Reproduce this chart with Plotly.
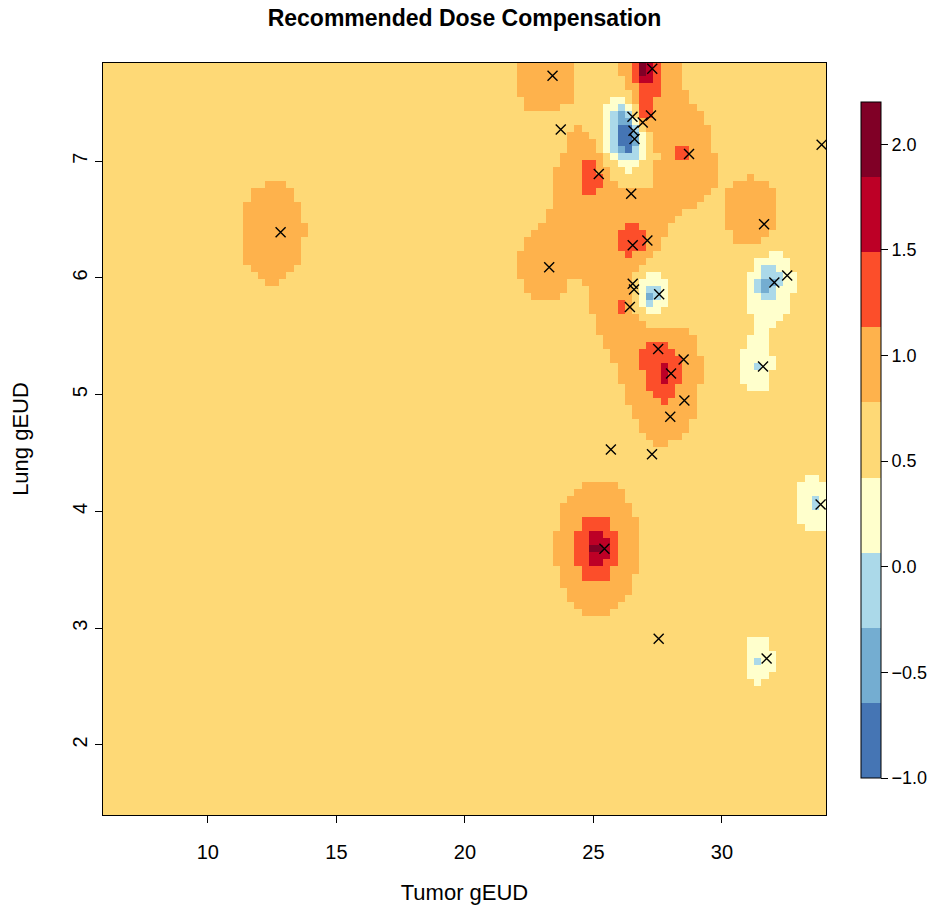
import numpy as np
import plotly.graph_objects as go

# ---- data ----
# measured points (Tumor gEUD, Lung gEUD)
pt_x = [23.41, 27.29, 26.52, 27.24, 26.92, 26.56, 26.60, 23.73, 28.72, 25.21,
        26.47, 26.53, 27.10, 23.28, 26.53, 26.58, 27.56, 26.42, 27.52, 28.51,
        28.02, 28.54, 27.99, 25.68, 27.28, 33.88, 31.64, 32.54, 32.04, 31.60,
        33.84, 25.43, 27.54, 31.74, 12.83]
pt_y = [7.73, 7.79, 7.38, 7.39, 7.33, 7.26, 7.19, 7.27, 7.06, 6.89,
        6.72, 6.28, 6.32, 6.09, 5.95, 5.90, 5.86, 5.75, 5.39, 5.30,
        5.18, 4.95, 4.81, 4.53, 4.49, 7.14, 6.46, 6.02, 5.96, 5.24,
        4.06, 3.68, 2.91, 2.74, 6.39]
# local compensation relative to the background level, and extent of influence
pt_amp = [0.60, 1.50, -0.60, 1.20, 0.00, -0.80, -2.10, -0.45, 0.65, 1.00,
          0.20, 0.35, 0.60, 0.50, 0.05, 0.05, -1.60, 0.62, 0.50, 0.20,
          0.80, 0.10, 0.20, 0.00, 0.00, 0.00, 0.60, -0.30, -1.30, -0.70,
          -0.75, 1.60, 0.00, -0.65, 0.50]
pt_width = [0.90, 0.55, 0.50, 0.50, 0.50, 0.50, 0.52, 0.35, 0.80, 0.70,
            0.90, 0.60, 0.60, 0.78, 0.80, 0.80, 0.50, 0.60, 0.70, 0.80,
            0.60, 0.70, 0.70, 0.50, 0.50, 0.50, 0.90, 0.50, 0.50, 0.48,
            0.50, 0.75, 0.50, 0.45, 1.20]
background_level = 0.6

levels = [-1.0, -0.644, -0.289, 0.067, 0.422, 0.778, 1.133, 1.489, 1.844, 2.2]
level_colors = ["#4575B4", "#74ADD1", "#ABD9E9", "#FFFFCC", "#FED976",
                "#FEB24C", "#FC4E2A", "#BD0026", "#800026"]
cb_tickvals = [-1.0, -0.5, 0.0, 0.5, 1.0, 1.5, 2.0]
cb_ticktext = ["\u22121.0", "\u22120.5", "0.0", "0.5", "1.0", "1.5", "2.0"]
x_range = [5.92, 34.05]
y_range = [1.40, 7.84]

# ---- surface on a grid ----
gx = np.arange(x_range[0], x_range[1] + 0.28, 0.28)
gy = np.arange(y_range[0], y_range[1] + 0.06, 0.06)
X, Y = np.meshgrid(gx, gy)
Z = np.full_like(X, background_level)
x_shift = 0.3
for xi, yi, a, s in zip(pt_x, pt_y, pt_amp, pt_width):
    r = np.sqrt(((X - (xi - x_shift)) / s) ** 2 + ((Y - yi) / (0.35 * s)) ** 2)
    Z += a * np.exp(-r)
Z = np.clip(Z, levels[0], levels[-1] - 1e-6)

n = len(level_colors)
cscale = []
for k, c in enumerate(level_colors):
    cscale.append([k / n, c])
    cscale.append([(k + 1) / n, c])

FONT = "Liberation Sans, Arial, sans-serif"
fig = go.Figure()
fig.add_trace(go.Heatmap(
    x=gx, y=gy, z=Z, zmin=levels[0], zmax=levels[-1], colorscale=cscale,
    zsmooth=False, hoverinfo="skip",
    colorbar=dict(
        x=(861 - 103) / 723, xanchor="left", xpad=0,
        y=(815 - 440) / 752, yanchor="middle", ypad=0,
        len=676 / 752, lenmode="fraction", thickness=20, thicknessmode="pixels",
        outlinecolor="black", outlinewidth=1,
        tickvals=cb_tickvals, ticktext=cb_ticktext,
        ticks="outside", ticklen=7, tickcolor="black",
        tickfont=dict(size=18, color="black", family=FONT),
    ),
))
fig.add_trace(go.Scatter(
    x=pt_x, y=pt_y, mode="markers", hoverinfo="skip",
    marker=dict(symbol="x-thin", size=10, line=dict(color="black", width=1.4)),
    showlegend=False,
))

axis_common = dict(
    showgrid=False, zeroline=False, showline=True, mirror=True,
    linecolor="black", linewidth=1, ticks="outside", ticklen=7,
    tickcolor="black", tickfont=dict(size=20, color="black", family=FONT),
)
fig.update_layout(
    width=946, height=912,
    margin=dict(l=103, r=120, t=63, b=97),
    paper_bgcolor="white", plot_bgcolor="white",
    font=dict(family=FONT, color="black"),
    title=dict(text="<b>Recommended Dose Compensation</b>", xref="paper", x=0.5,
               xanchor="center", y=1 - 18 / 912, yanchor="middle", font=dict(size=23)),
    xaxis=dict(range=x_range, tickvals=[10, 15, 20, 25, 30], ticklabelstandoff=12,
               title=dict(text="Tumor gEUD", font=dict(size=22), standoff=22),
               **axis_common),
    yaxis=dict(range=y_range, tickvals=[2, 3, 4, 5, 6, 7], tickangle=-90,
               title=dict(text="Lung gEUD", font=dict(size=22), standoff=34),
               **axis_common),
    showlegend=False,
)
fig.write_html("out.html", config={"displayModeBar": False},
               post_script="document.body.style.margin='0';")
